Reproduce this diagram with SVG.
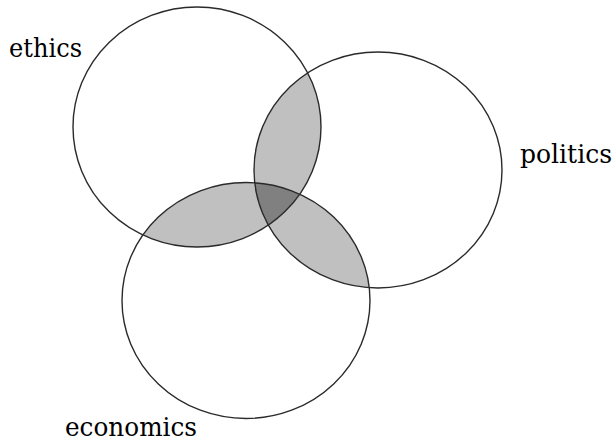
<svg xmlns="http://www.w3.org/2000/svg" width="615" height="446" viewBox="0 0 615 446">
<style>
.c{fill:none;stroke:#2a2a2a;stroke-width:1.4}
.p{fill:#c0c0c0}
.t{fill:#808080}
text{font-family:'DejaVu Serif',serif;font-size:25.5px;fill:#000}
</style>
<defs>
<clipPath id="cP"><ellipse cx="378" cy="170" rx="124" ry="118"/></clipPath>
<clipPath id="cC"><ellipse cx="246" cy="300.5" rx="124" ry="118"/></clipPath>
</defs>
<rect width="615" height="446" fill="#fff"/>
<g id="overlaps">
<ellipse class="p" cx="197" cy="127" rx="124" ry="120" clip-path="url(#cP)"/>
<ellipse class="p" cx="197" cy="127" rx="124" ry="120" clip-path="url(#cC)"/>
<ellipse class="p" cx="378" cy="170" rx="124" ry="118" clip-path="url(#cC)"/>
<g clip-path="url(#cC)"><ellipse class="t" cx="197" cy="127" rx="124" ry="120" clip-path="url(#cP)"/></g>
</g>
<g id="ethics">
<ellipse class="c" cx="197" cy="127" rx="124" ry="120"/>
<text x="9" y="57" textLength="73" lengthAdjust="spacingAndGlyphs">ethics</text>
</g>
<g id="politics">
<ellipse class="c" cx="378" cy="170" rx="124" ry="118"/>
<text x="520" y="163" textLength="92" lengthAdjust="spacingAndGlyphs">politics</text>
</g>
<g id="economics">
<ellipse class="c" cx="246" cy="300.5" rx="124" ry="118"/>
<text x="65" y="436" textLength="132" lengthAdjust="spacingAndGlyphs">economics</text>
</g>
</svg>
